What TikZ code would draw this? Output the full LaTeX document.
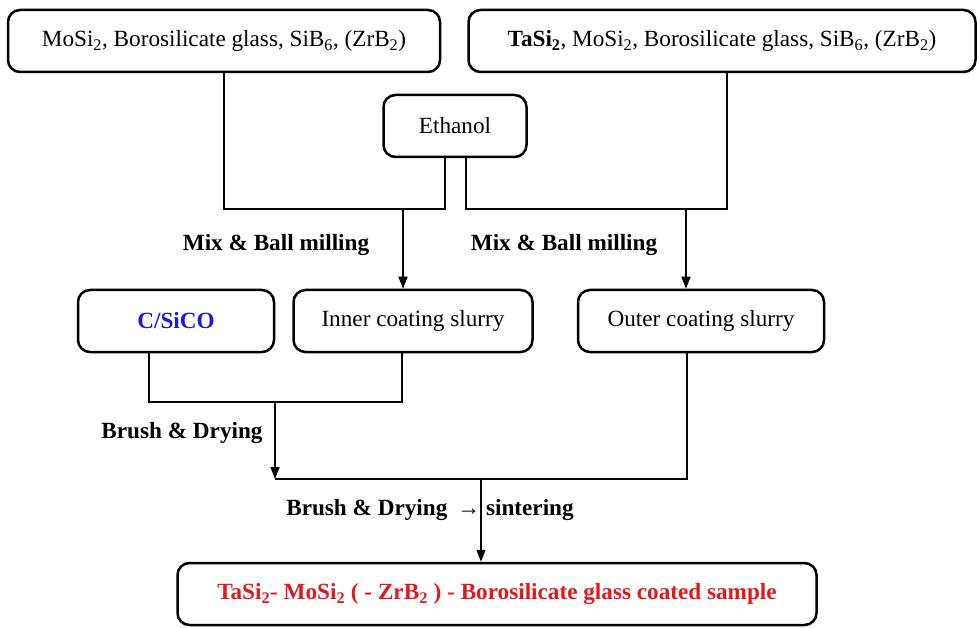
\documentclass[tikz,border=0pt]{standalone}
\usepackage{fontspec}
\setmainfont{Liberation Serif}
\usetikzlibrary{arrows.meta}
\definecolor{sicoblue}{RGB}{25,25,225}
\definecolor{coatred}{RGB}{225,25,30}

\begin{document}
\begin{tikzpicture}[
  x=1pt,y=-1pt,
  box/.style={draw,line width=2.5pt,rounded corners=12pt,inner sep=0pt,minimum height=62pt,font=\fontsize{23.2}{27}\selectfont},
  link/.style={line width=1.5pt},
  flow/.style={link,-{Triangle[length=12pt,width=9pt]}},
  stagelabel/.style={inner sep=0pt,font=\bfseries\fontsize{23.2}{27}\selectfont},
]
\useasboundingbox (0,0) rectangle (980,628);
\node[box,minimum width=432pt] (powderA) at (224,41) {MoSi\textsubscript{2}, Borosilicate glass, SiB\textsubscript{6}, (ZrB\textsubscript{2})};
\node[box,minimum width=507pt] (powderB) at (722,41) {\textbf{TaSi\textsubscript{2}}, MoSi\textsubscript{2}, Borosilicate glass, SiB\textsubscript{6}, (ZrB\textsubscript{2})};
\node[box,minimum width=143pt] (ethanol) at (455,126) {Ethanol};
\node[box,minimum width=196pt,text=sicoblue,font=\bfseries\fontsize{23.2}{27}\selectfont] (sico) at (176,321) {C/SiCO};
\node[box,minimum width=239pt] (inner) at (413,321) {Inner coating slurry};
\node[box,minimum width=246pt] (outer) at (701,321) {Outer coating slurry};
\node[box,minimum width=639pt,text=coatred,font=\bfseries\fontsize{23.2}{27}\selectfont] (coated) at (497,594) {TaSi\textsubscript{2}- MoSi\textsubscript{2} ( - ZrB\textsubscript{2} ) - Borosilicate glass coated sample};
\node[stagelabel] (millA) at (276,245) {Mix \& Ball milling};
\node[stagelabel] (millB) at (564,245) {Mix \& Ball milling};
\node[stagelabel] (brushA) at (182,433) {Brush \& Drying};
\node[stagelabel] (brushB) at (430,510) {Brush \& Drying \,→ sintering};
\coordinate (cornerA) at (224,209);
\coordinate (cornerB) at (727,209);
\coordinate (ethA) at (445,209);
\coordinate (ethB) at (466,209);
\coordinate (dropA) at (403,209);
\coordinate (dropB) at (686,209);
\draw[link] (powderA.south -| cornerA) -- (cornerA) -- (ethA) -- (ethA |- ethanol.south);
\draw[link] (ethanol.south -| ethB) -- (ethB) -- (cornerB) -- (cornerB |- powderB.south);
\draw[flow] (dropA) -- (dropA |- inner.north);
\draw[flow] (dropB) -- (dropB |- outer.north);
\coordinate (sicoA) at (149,402);
\coordinate (innerA) at (402,402);
\coordinate (brushTop) at (275,402);
\coordinate (brushEnd) at (275,479);
\coordinate (outerA) at (687,479);
\coordinate (sinter) at (481,479);
\draw[link] (sico.south -| sicoA) -- (sicoA) -- (innerA) -- (innerA |- inner.south);
\draw[flow] (brushTop) -- (brushEnd);
\draw[link] (brushEnd) -- (outerA) -- (outerA |- outer.south);
\draw[flow] (sinter) -- (sinter |- coated.north);
\end{tikzpicture}
\end{document}
